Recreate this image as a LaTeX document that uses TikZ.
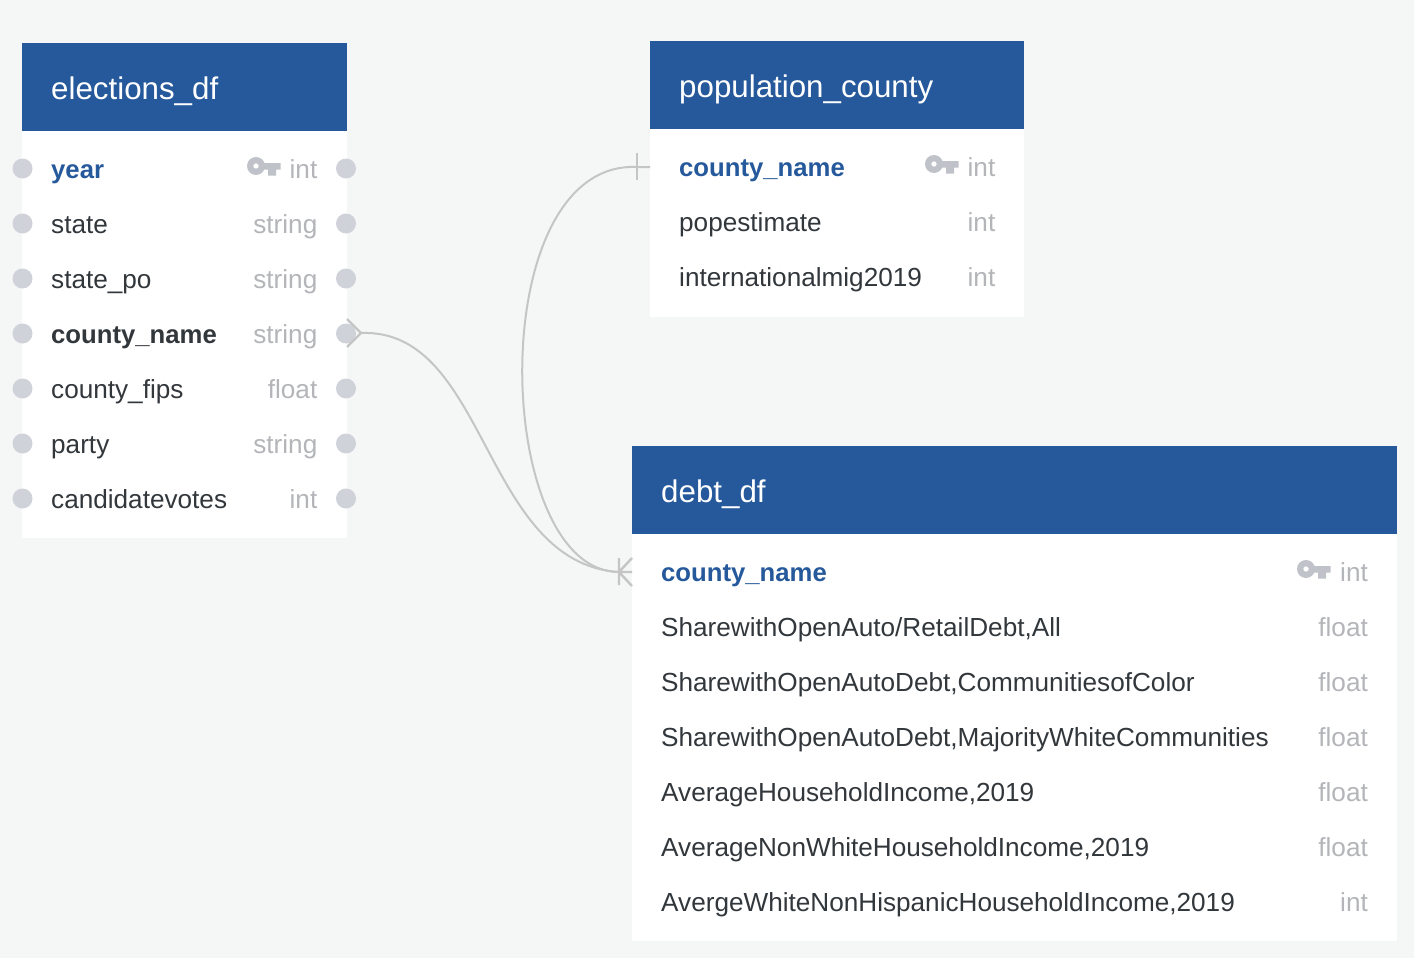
\documentclass[tikz,border=0pt]{standalone}
\usepackage{fontspec}
\setmainfont{Liberation Sans}
\definecolor{bgc}{HTML}{F5F7F6}
\definecolor{hdr}{HTML}{25599B}
\definecolor{txt}{HTML}{32373C}
\definecolor{typ}{HTML}{B3B5B9}
\definecolor{dotc}{HTML}{D0D2DA}
\definecolor{keyc}{HTML}{C0C2C9}
\definecolor{lnk}{HTML}{C4C5C4}
\newcommand{\rowkey}[2]{%
  \fill[keyc,even odd rule] (#1,#2) circle[radius=9] (#1,#2) circle[radius=2.8];
  \fill[keyc] (#1+6,#2-3) rectangle (#1+24.5,#2+3.5) (#1+12,#2) rectangle (#1+20,#2+9.5);
}
\begin{document}
\begin{tikzpicture}[x=1pt,y=-1pt,
  title/.style={anchor=base west,text=white,font=\fontsize{31.3}{32}\selectfont,inner sep=0pt},
  field/.style={anchor=base west,text=txt,font=\fontsize{26.15}{27}\selectfont,inner sep=0pt},
  fieldb/.style={field,font=\fontsize{25.7}{27}\selectfont\bfseries},
  pk/.style={fieldb,text=hdr},
  ftype/.style={anchor=base east,text=typ,font=\fontsize{26.15}{27}\selectfont,inner sep=0pt},
  port/.style={circle,fill=dotc,minimum size=20,inner sep=0pt},
  link/.style={draw=lnk,line width=2pt},
  foot/.style={draw=lnk,line width=2.4pt}]
\useasboundingbox (0,0) rectangle (1414,958);
\fill[bgc] (0,0) rectangle (1414,958);
% elections_df
\fill[white] (22,131) rectangle (347,538);
\fill[hdr] (22,43) rectangle (347,131);
\node[title] (et) at (51,99.5) {elections\_df};
\node[pk] (e1) at (51,178) {year};       \node[ftype] (e1t) at (317.5,178) {int};
\node[field] (e2) at (51,233) {state};   \node[ftype] (e2t) at (317.5,233) {string};
\node[field] (e3) at (51,288) {state\_po}; \node[ftype] (e3t) at (317.5,288) {string};
\node[fieldb] (e4) at (51,343) {county\_name}; \node[ftype] (e4t) at (317.5,343) {string};
\node[field] (e5) at (51,398) {county\_fips}; \node[ftype] (e5t) at (317.5,398) {float};
\node[field] (e6) at (51,453) {party};   \node[ftype] (e6t) at (317.5,453) {string};
\node[field] (e7) at (51,508) {candidatevotes}; \node[ftype] (e7t) at (317.5,508) {int};
\foreach \n/\y in {1/168.5,2/223.5,3/278.5,4/333.5,5/388.5,6/443.5,7/498.5}{
  \node[port] (el\n) at (22.5,\y) {};
  \node[port] (er\n) at (346,\y) {};
}
\rowkey{256}{166}
% population_county
\fill[white] (650,129) rectangle (1024,317);
\fill[hdr] (650,41.5) rectangle (1024,129);
\node[title] (pt) at (679,97.5) {population\_county};
\node[pk] (p1) at (679,176) {county\_name}; \node[ftype] (p1t) at (995.5,176) {int};
\node[field] (p2) at (679,231) {popestimate}; \node[ftype] (p2t) at (995.5,231) {int};
\node[field] (p3) at (679,286) {internationalmig2019}; \node[ftype] (p3t) at (995.5,286) {int};
\rowkey{934}{164}
% debt_df
\fill[white] (632,534) rectangle (1397,941);
\fill[hdr] (632,446) rectangle (1397,534);
\node[title] (dt) at (661,502.5) {debt\_df};
\node[pk] (d1) at (661,581) {county\_name}; \node[ftype] (d1t) at (1368,581) {int};
\node[field] (d2) at (661,636) {SharewithOpenAuto/RetailDebt,All}; \node[ftype] (d2t) at (1368,636) {float};
\node[field] (d3) at (661,691) {SharewithOpenAutoDebt,CommunitiesofColor}; \node[ftype] (d3t) at (1368,691) {float};
\node[field] (d4) at (661,746) {SharewithOpenAutoDebt,MajorityWhiteCommunities}; \node[ftype] (d4t) at (1368,746) {float};
\node[field] (d5) at (661,801) {AverageHouseholdIncome,2019}; \node[ftype] (d5t) at (1368,801) {float};
\node[field] (d6) at (661,856) {AverageNonWhiteHouseholdIncome,2019}; \node[ftype] (d6t) at (1368,856) {float};
\node[field] (d7) at (661,911) {AvergeWhiteNonHispanicHouseholdIncome,2019}; \node[ftype] (d7t) at (1368,911) {int};
\rowkey{1306}{569}
% connector ends
\coordinate (a) at (361,333);
\coordinate (b) at (619,572);
\coordinate (c) at (650,167);
\coordinate (an) at (347,333);
\coordinate (bn) at (632,572);
\path[link] (a) .. controls (488,328) and (482,563) .. (b);
\path[link] (c) -- (637,167) .. controls (482,160) and (492,572) .. (b);
% crow's feet
\path[foot] (a) -- (347,319) (a) -- (347,347);
\path[foot] (b) -- (bn) (b) -- (632,558) (b) -- (632,586) (619,558) -- (619,585);
\path[foot] (637,153) -- (637,180);
\end{tikzpicture}
\end{document}
